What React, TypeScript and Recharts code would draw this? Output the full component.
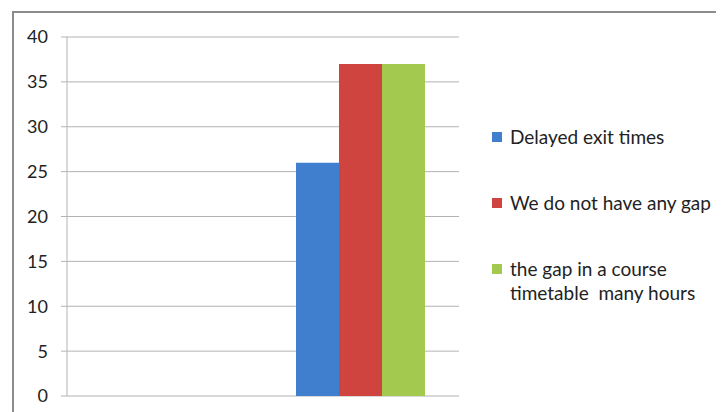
import { BarChart, Bar, XAxis, YAxis, CartesianGrid } from "recharts";

const categories = ["", "Reasons"];
const delayedExit = [null, 26];
const noGap = [null, 37];
const courseGap = [null, 37];
const yTicks = [0, 5, 10, 15, 20, 25, 30, 35, 40];

const seriesNames = [
  "Delayed exit times",
  "We do not have any gap",
  "the gap in a course timetable  many hours",
];
const seriesColors = ["#3f7fcd", "#d0443f", "#a3c94f"];

const data = categories.map((c, i) => ({
  name: c,
  s0: delayedExit[i],
  s1: noGap[i],
  s2: courseGap[i],
}));

const font = "Lato, 'Liberation Sans', sans-serif";

export default function App() {
  return (
    <div
      style={{
        position: "relative",
        width: 716,
        height: 404,
        overflow: "hidden",
        fontFamily: font,
      }}
    >
      <div
        style={{
          position: "absolute",
          left: 4,
          top: 3,
          width: 800,
          height: 500,
          border: "2px solid #8c8c8c",
        }}
      />
      <div style={{ position: "absolute", left: 0, top: 0 }}>
        <BarChart
          width={716}
          height={404}
          data={data}
          margin={{ top: 29, right: 265, bottom: 16, left: 0 }}
          barGap={0}
          barCategoryGap={33}
        >
          <CartesianGrid vertical={false} stroke="#b3b3b3" strokeWidth={1} />
          <XAxis
            dataKey="name"
            tick={false}
            tickLine={false}
            height={0}
            axisLine={{ stroke: "#b3b3b3" }}
          />
          <YAxis
            width={59}
            domain={[0, 40]}
            ticks={yTicks}
            interval={0}
            tickSize={6}
            tickMargin={13}
            axisLine={{ stroke: "#b3b3b3" }}
            tickLine={{ stroke: "#b3b3b3" }}
            tick={{ fill: "#222", fontSize: 18, fontFamily: font }}
          />
          {["s0", "s1", "s2"].map((k, i) => (
            <Bar
              key={k}
              dataKey={k}
              name={seriesNames[i]}
              fill={seriesColors[i]}
              isAnimationActive={false}
            />
          ))}
        </BarChart>
      </div>
      <div
        style={{
          position: "absolute",
          left: 484,
          top: 0,
          fontSize: 19,
          color: "#222",
          lineHeight: "24px",
        }}
      >
        {seriesNames.map((n, i) => (
          <div
            key={n}
            style={{
              position: "absolute",
              top: [117, 183, 249][i],
              display: "flex",
              alignItems: "flex-start",
              width: 230,
            }}
          >
            <div
              style={{
                width: 10,
                height: 10,
                background: seriesColors[i],
                marginTop: 7,
                marginRight: 8,
                flex: "none",
              }}
            />
            <div style={{ width: i === 2 ? 200 : 230, whiteSpace: "nowrap" }}>
              {i === 2 ? (
                <>
                  the gap in a course
                  <br />
                  timetable&nbsp;&nbsp;many hours
                </>
              ) : (
                n
              )}
            </div>
          </div>
        ))}
      </div>
    </div>
  );
}
